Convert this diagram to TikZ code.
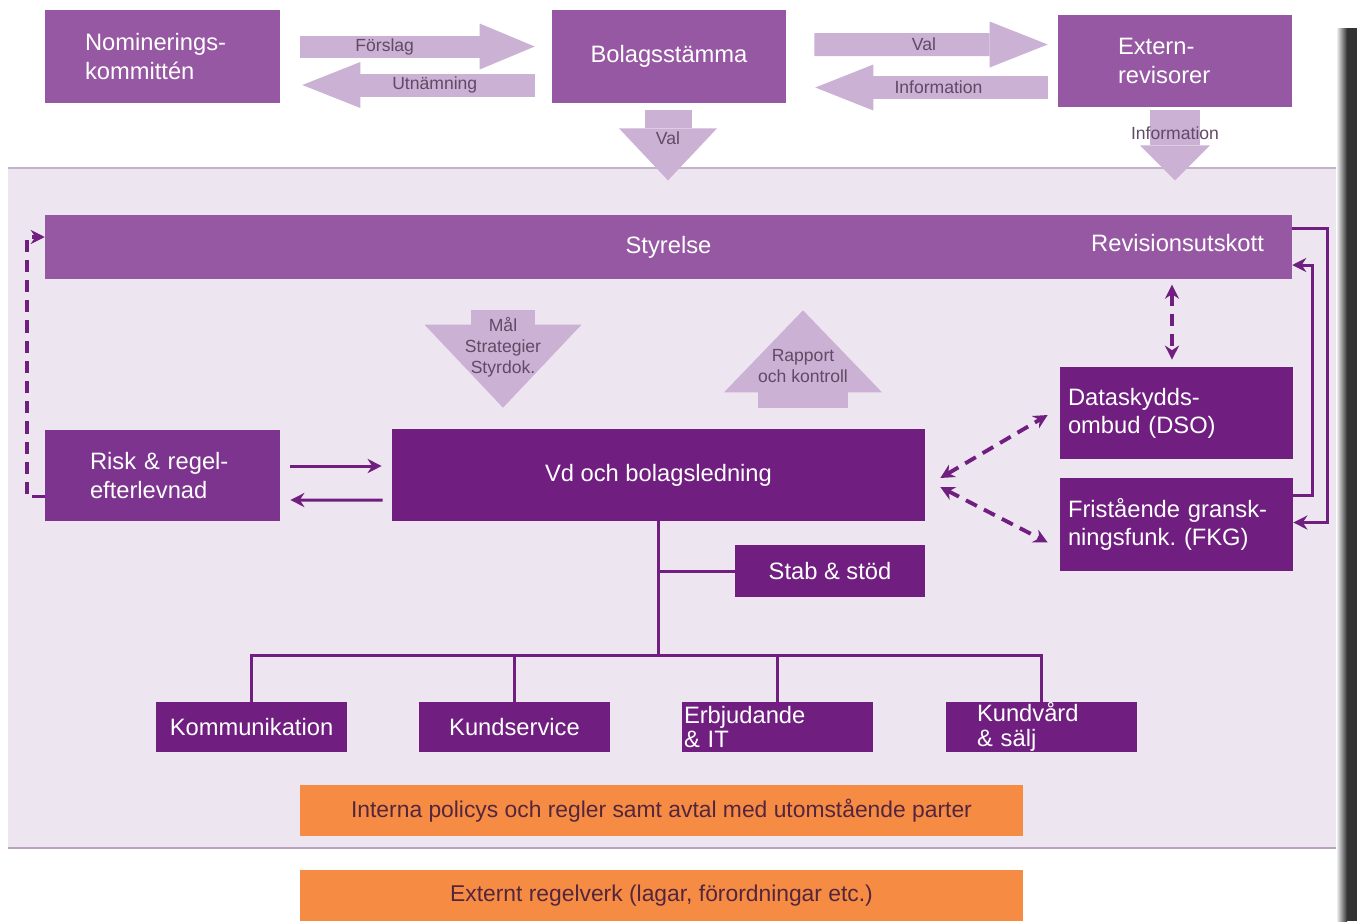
\documentclass[tikz,border=0pt]{standalone}
\usepackage{fontspec}
\setmainfont{Liberation Sans}
\usepackage{tikz}
\usetikzlibrary{arrows.meta, positioning}
\frenchspacing

\definecolor{lila}{RGB}{150,88,162}
\definecolor{lilamork}{RGB}{112,31,128}
\definecolor{lilarisk}{RGB}{124,52,143}
\definecolor{lilaljus}{RGB}{203,177,212}
\definecolor{panelbg}{RGB}{237,229,240}
\definecolor{panelkant}{RGB}{196,178,202}
\definecolor{orangebox}{RGB}{246,139,68}
\definecolor{piltext}{RGB}{96,74,102}
\definecolor{orangetext}{RGB}{84,38,62}

\begin{document}
\begin{tikzpicture}[
  x=0.02cm, y=-0.02cm,
  >={Stealth[length=8pt, width=8pt]},
  block/.style={fill=lila, text=white, inner sep=0pt, font=\fontsize{13.5}{16}\selectfont},
  darkblock/.style={block, fill=lilamork},
  orgblock/.style={darkblock, minimum width=3.82cm, minimum height=1cm},
  regelblock/.style={fill=orangebox, text=orangetext, inner sep=0pt, minimum width=14.46cm, minimum height=1.02cm, font=\fontsize{13}{15}\selectfont},
  bigarrow/.style={draw=lilaljus, line width=#1},
  piltext/.style={text=piltext, inner sep=0pt, font=\fontsize{10}{12}\selectfont},
  link/.style={->, draw=lilamork, line width=1.7pt},
  dashlink/.style={draw=lilamork, line width=2.2pt, dash pattern=on 7pt off 4.5pt},
  orgline/.style={draw=lilamork, line width=1.7pt}
]
  \useasboundingbox (0,0) rectangle (1357,921);

  % bakgrund
  \fill[panelbg] (8,168) rectangle (1340,848);
  \draw[panelkant, line width=1.5pt] (8,168) -- (1340,168);
  \draw[panelkant!80!lila, line width=1.5pt] (8,848) -- (1340,848);
  \shade[left color=white, right color=black!80] (1336,28) rectangle (1347,921);
  \fill[black!80] (1347,28) rectangle (1357,921);

  % övre raden
  \node[block, minimum width=4.7cm, minimum height=1.86cm, text width=3.1cm, inner xsep=0.8cm, align=left] (nom) at (162.5,56.5) {Nominerings-\\kommittén};
  \node[block, minimum width=4.68cm, minimum height=1.86cm] (bol) at (669,56.5) {Bolagsstämma};
  \node[block, minimum width=4.68cm, minimum height=1.84cm, text width=2.28cm, inner xsep=1.2cm, align=left] (ext) at (1175,61) {Extern-\\revisorer};

  \draw[bigarrow=0.44cm, -{Triangle[width=0.92cm, length=1.1cm, line width=0pt]}]
    ([shift={(20,-10)}]nom.east) -- node[piltext, pos=.36] (forslag) {Förslag} ([shift={(-17,-10)}]bol.west);
  \draw[bigarrow=0.46cm, -{Triangle[width=0.92cm, length=1.16cm, line width=0pt]}]
    ([shift={(-17,28.5)}]bol.west) -- node[piltext, pos=.43] (utn) {Utnämning} ([shift={(22,28.5)}]nom.east);
  \draw[bigarrow=0.46cm, -{Triangle[width=0.92cm, length=1.16cm, line width=0pt]}]
    ([shift={(28,-12)}]bol.east) -- node[piltext, pos=.47] (val) {Val} ([shift={(-10,-16.5)}]ext.west);
  \draw[bigarrow=0.46cm, -{Triangle[width=0.92cm, length=1.16cm, line width=0pt]}]
    ([shift={(-10,26.5)}]ext.west) -- node[piltext, pos=.47] (info) {Information} ([shift={(29,31)}]bol.east);
  \draw[bigarrow=0.94cm, -{Triangle[width=1.96cm, length=1.04cm, line width=0pt]}]
    ([shift={(-1,7)}]bol.south) -- node[piltext, pos=.4] (valned) {Val} ([shift={(-1,77)}]bol.south);
  \draw[bigarrow=1cm, -{Triangle[width=1.4cm, length=0.7cm, line width=0pt]}]
    ([shift={(0,3)}]ext.south) -- node[piltext, pos=.33] (infoned) {Information} ([shift={(0,73)}]ext.south);

  % styrelse
  \node[block, minimum width=24.94cm, minimum height=1.28cm] (sty) at (668.5,247) {Styrelse};
  \node[block, anchor=east] (rev) at ([shift={(-28,-4)}]sty.east) {Revisionsutskott};

  % ledning
  \node[block, fill=lilarisk, minimum width=4.7cm, minimum height=1.82cm, text width=2.9cm, inner xsep=0.9cm, align=left] (risk) at (162.5,475.5) {Risk \& regel-\\efterlevnad};
  \node[darkblock, minimum width=10.66cm, minimum height=1.84cm] (vd) at (658.5,475) {Vd och bolagsledning};
  \node[darkblock, minimum width=4.66cm, minimum height=1.84cm, text width=4.34cm, inner xsep=0.16cm, align=left] (dso) at (1176.5,413) {Dataskydds-\\ombud (DSO)};
  \node[darkblock, minimum width=4.66cm, minimum height=1.86cm, text width=4.34cm, inner xsep=0.16cm, align=left] (fkg) at (1176.5,524.5) {Fristående gransk-\\ningsfunk. (FKG)};
  \node[darkblock, minimum width=3.8cm, minimum height=1.04cm] (stab) at (830,571) {Stab \& stöd};

  \draw[bigarrow=1.3cm, -{Triangle[width=3.14cm, length=1.66cm, line width=0pt]}]
    ([shift={(-165.5,31)}]sty.south) -- node[piltext, pos=.38, align=center] (mal) {Mål\\Strategier\\Styrdok.} ([shift={(-155.5,-21)}]vd.north);
  \draw[bigarrow=1.8cm, -{Triangle[width=3.16cm, length=1.64cm, line width=0pt]}]
    ([shift={(144.5,-21)}]vd.north) -- node[piltext, pos=.43, align=center] (rapport) {Rapport\\och kontroll} ([shift={(134.5,31)}]sty.south);

  % avdelningar
  \node[orgblock] (kom) at (251.5,727) {Kommunikation};
  \node[orgblock] (kund) at (514.5,727) {Kundservice};
  \node[orgblock, text width=3.74cm, inner xsep=0.04cm, align=left, font=\fontsize{13.5}{14}\selectfont] (erb) at (777.5,727) {Erbjudande\\\& IT};
  \node[orgblock, text width=2.58cm, inner xsep=0.62cm, align=left, font=\fontsize{13.5}{14}\selectfont] (kv) at (1041.5,727) {Kundvård\\\& sälj};

  % regler
  \node[regelblock] (intern) at (661.5,810.5) {Interna policys och regler samt avtal med utomstående parter};
  \node[regelblock] (extreg) at (661.5,895.5) {Externt regelverk (lagar, förordningar etc.)};

  % pilar
  \draw[link] ([shift={(10,-9.5)}]risk.east) -- ([shift={(-10,-9)}]vd.west);
  \draw[link] ([shift={(-9,25)}]vd.west) -- ([shift={(10,24.5)}]risk.east);
  \draw[dashlink, ->] ([shift={(0,21)}]risk.west) -- ++(-18,0) |- ([shift={(0,-10)}]sty.west);
  \draw[dashlink, <->] ([shift={(15,3)}]vd.east) -- ([shift={(-12,2)}]dso.west);
  \draw[dashlink, <->] ([shift={(15,12)}]vd.east) -- ([shift={(-12,18)}]fkg.west);
  \draw[dashlink, <->] ([shift={(-4.5,-82)}]dso.north) -- ([shift={(-4.5,-7)}]dso.north);
  \draw[link] ([shift={(0,-19)}]sty.east) -- ++(35,0) |- ([shift={(0,-2)}]fkg.east);
  \draw[link] ([shift={(0,-29)}]fkg.east) -- ++(19,0) |- ([shift={(0,18)}]sty.east);

  % organisation
  \coordinate (buss) at ([shift={(0,134)}]vd.south);
  \draw[orgline] (vd.south) -- (buss);
  \draw[orgline] (vd.south |- stab.west) -- (stab.west);
  \draw[orgline] (kom.north) |- (kv.north |- buss) -- (kv.north);
  \draw[orgline] (kund.north) -- (kund.north |- buss);
  \draw[orgline] (erb.north) -- (erb.north |- buss);
\end{tikzpicture}
\end{document}
